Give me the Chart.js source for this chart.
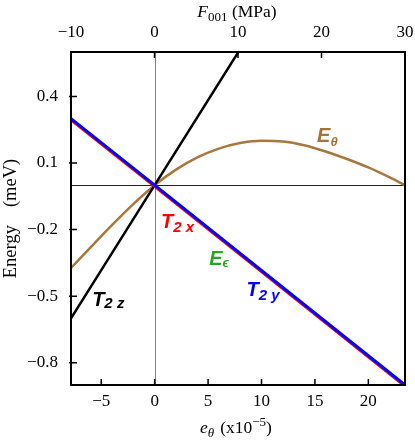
<!DOCTYPE html>
<html><head><meta charset="utf-8">
<script src="https://cdn.jsdelivr.net/npm/chart.js@4"></script>
<style>html,body{margin:0;padding:0;background:#fff}#wrap{width:415px;height:441px;position:relative}</style>
</head><body><div id="wrap"><canvas id="c"></canvas></div>
<script>
// ---- data ----
const eTicks = [-5, 0, 5, 10, 15, 20];          // bottom axis e_theta (x10^-5)
const fTicks = [-10, 0, 10, 20, 30];            // top axis F001 (MPa)
const yTicks = [0.4, 0.1, -0.2, -0.5, -0.8];    // Energy (meV)
const eRange = [-7.83, 23.43];
const fRange = [-10, 30];
const yRange = [-0.9, 0.6];

const eThetaX = [-7.83, -6, -4, -2, 0, 2, 4, 6, 8, 10, 12, 14, 16, 18, 20, 22, 23.43];
const eThetaY = [-0.373, -0.28, -0.18, -0.085, 0, 0.07, 0.125, 0.165, 0.19, 0.20, 0.197, 0.18, 0.152, 0.118, 0.08, 0.035, 0.0];
const t2yX = [-7.83, 0, 23.43];
const t2yY = [0.300, 0, -0.900];
const t2xX = [-7.83, 0, 23.43];
const t2xY = [0.295, -0.005, -0.905];
const t2zX = [-7.83, 0, 7.9];
const t2zY = [-0.600, 0, 0.605];

const zip = (xs, ys) => xs.map((x, i) => ({x, y: ys[i]}));
const minus = v => (v < 0 ? '\u2212' : '') + Math.abs(v);

const SERIF = '"Liberation Serif", "Times New Roman", serif';
const SANS = '"Liberation Sans", "DejaVu Sans", Arial, sans-serif';
const mainF = 'bold italic 20px ' + SANS;
const subF = 'bold italic 15px ' + SANS;
const greekF = 'bold italic 13px ' + SANS;

const curveLabels = [
  {e: 15.2, v: 0.196, color: '#A6723C', parts: [{t: 'E', font: mainF}, {t: '\u03B8', font: greekF, dy: 4}]},
  {e: 0.6, v: -0.193, color: '#FF0000', parts: [{t: 'T', font: mainF}, {t: '2 x', font: subF, dy: 3.5}]},
  {e: 5.1, v: -0.358, color: '#2AA52A', parts: [{t: 'E', font: mainF}, {t: '\u03F5', font: greekF, dy: 2}]},
  {e: 8.6, v: -0.501, color: '#0000FF', parts: [{t: 'T', font: mainF}, {t: '2 y', font: subF, dy: 3.5}]},
  {e: -5.85, v: -0.543, color: '#000000', parts: [{t: 'T', font: mainF}, {t: '2 z', font: subF, dy: 2.5}]}
];

function drawRich(ctx, parts, x, y, align) {
  let w = 0;
  parts.forEach(p => { ctx.font = p.font; p.w = ctx.measureText(p.t).width + (p.gap || 0); w += p.w; });
  let cx = align === 'center' ? x - w / 2 : x;
  ctx.textBaseline = 'alphabetic';
  ctx.textAlign = 'left';
  parts.forEach(p => {
    ctx.font = p.font;
    ctx.fillStyle = p.color || '#000';
    ctx.fillText(p.t, cx, y + (p.dy || 0));
    cx += p.w;
  });
}

const deco = {
  id: 'deco',
  beforeDatasetsDraw(chart) {
    const {ctx, chartArea: a, scales} = chart;
    const x0 = Math.round(scales.x.getPixelForValue(0)) + 0.5;
    const y0 = Math.round(scales.y.getPixelForValue(0)) + 0.5;
    ctx.save();
    ctx.lineWidth = 1;
    ctx.strokeStyle = '#808080';
    ctx.beginPath(); ctx.moveTo(x0, a.top); ctx.lineTo(x0, a.bottom); ctx.stroke();
    ctx.strokeStyle = '#222';
    ctx.beginPath(); ctx.moveTo(a.left, y0); ctx.lineTo(a.right, y0); ctx.stroke();
    ctx.restore();
  },
  afterDatasetsDraw(chart) {
    const {ctx, chartArea: a, scales} = chart;
    ctx.save();
    // frame
    ctx.strokeStyle = '#000';
    ctx.lineWidth = 2;
    ctx.strokeRect(a.left, a.top, a.right - a.left, a.bottom - a.top);
    // inward ticks
    ctx.lineWidth = 1.5;
    ctx.beginPath();
    eTicks.forEach(v => { const p = scales.x.getPixelForValue(v); ctx.moveTo(p, a.bottom); ctx.lineTo(p, a.bottom - 6); });
    fTicks.forEach(v => { const p = scales.x2.getPixelForValue(v); ctx.moveTo(p, a.top); ctx.lineTo(p, a.top + 6); });
    yTicks.forEach(v => { const p = scales.y.getPixelForValue(v); ctx.moveTo(a.left - 2, p); ctx.lineTo(a.left + 6, p); });
    ctx.stroke();
    // curve labels
    curveLabels.forEach(L => {
      const px = scales.x.getPixelForValue(L.e), py = scales.y.getPixelForValue(L.v);
      drawRich(ctx, L.parts.map(p => Object.assign({color: L.color}, p)), px, py, 'left');
    });
    // axis titles
    const cx = (a.left + a.right) / 2, cy = (a.top + a.bottom) / 2;
    const tF = '17.5px ' + SERIF, tI = 'italic 17.5px ' + SERIF, sF = '13px ' + SERIF, sI = 'italic 13px ' + SERIF;
    drawRich(ctx, [{t: 'F', font: tI}, {t: '001', font: sF, dy: 3.5}, {t: ' (MPa)', font: tF}], cx - 1, 17, 'center');
    drawRich(ctx, [{t: 'e', font: tI}, {t: '\u03B8', font: sI, dy: 3.5, gap: 6}, {t: '(x10', font: tF}, {t: '\u22125', font: sF, dy: -7}, {t: ')', font: tF}], cx - 2, 433, 'center');
    const lF = '18.5px ' + SERIF;
    ctx.translate(16, cy);
    ctx.rotate(-Math.PI / 2);
    drawRich(ctx, [{t: 'Energy', font: lF, gap: 18}, {t: '(meV)', font: lF}], 0, 0, 'center');
    ctx.restore();
  }
};

const tickFont = {family: SERIF, size: 17};
new Chart(document.getElementById('c'), {
  type: 'scatter',
  data: {datasets: [
    {label: 'T2y', data: zip(t2yX, t2yY), borderColor: '#0000FF', borderWidth: 3, showLine: true, pointRadius: 0, order: 0},
    {label: 'T2x', data: zip(t2xX, t2xY), borderColor: '#FF0000', borderWidth: 3, showLine: true, pointRadius: 0, order: 1},
    {label: 'T2z', data: zip(t2zX, t2zY), borderColor: '#000000', borderWidth: 2.5, showLine: true, pointRadius: 0, order: 2},
    {label: 'Etheta', data: zip(eThetaX, eThetaY), borderColor: '#A8763F', borderWidth: 2.5, showLine: true, pointRadius: 0, cubicInterpolationMode: 'monotone', order: 3}
  ]},
  options: {
    responsive: true, maintainAspectRatio: false, animation: false,
    layout: {padding: {left: 0, right: 10, top: 0, bottom: 0}},
    plugins: {legend: {display: false}, tooltip: {enabled: false}},
    scales: {
      x: {type: 'linear', position: 'bottom', min: eRange[0], max: eRange[1],
        grid: {display: false}, border: {display: false},
        afterBuildTicks: s => { s.ticks = eTicks.map(v => ({value: v})); },
        afterFit: s => { s.height = 56; },
        ticks: {font: tickFont, color: '#000', padding: -2, maxRotation: 0, autoSkip: false, callback: v => minus(v)}},
      x2: {type: 'linear', position: 'top', min: fRange[0], max: fRange[1],
        grid: {display: false}, border: {display: false},
        afterBuildTicks: s => { s.ticks = fTicks.map(v => ({value: v})); },
        afterFit: s => { s.height = 52; },
        ticks: {font: tickFont, color: '#000', padding: 1, maxRotation: 0, autoSkip: false, callback: v => minus(v)}},
      y: {type: 'linear', position: 'left', min: yRange[0], max: yRange[1],
        grid: {display: false}, border: {display: false},
        afterBuildTicks: s => { s.ticks = yTicks.map(v => ({value: v})); },
        afterFit: s => { s.width = 71; },
        ticks: {font: tickFont, color: '#000', padding: 5, autoSkip: false, callback: v => (v < 0 ? '\u2212' : '') + Math.abs(v).toFixed(1)}}
    }
  },
  plugins: [deco]
});
</script>
</body></html>
